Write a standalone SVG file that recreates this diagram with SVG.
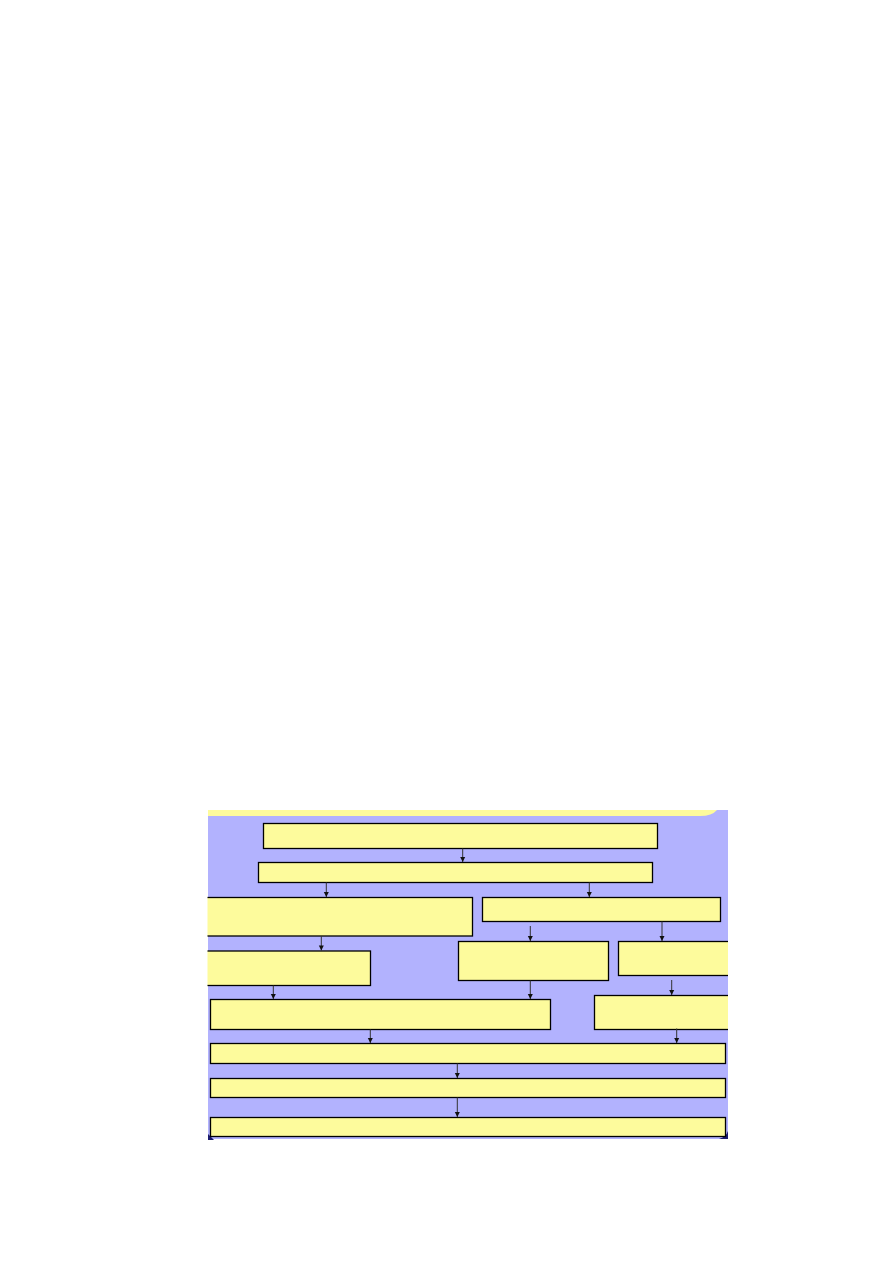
<svg xmlns="http://www.w3.org/2000/svg" width="893" height="1263" viewBox="0 0 893 1263">
<style>
.n{fill:#fdfb9c;stroke:#000;stroke-width:1.3}
.c line{stroke:#333;stroke-width:1}
</style>
<defs>
<marker id="ah" markerWidth="6" markerHeight="6" refX="5.5" refY="3" orient="auto" markerUnits="userSpaceOnUse" viewBox="0 0 6 6">
<path d="M0.5,0.5 L5.5,3 L0.5,5.5 Z" fill="#111"/>
</marker>
<clipPath id="panel"><rect x="207.5" y="810" width="520.5" height="329"/></clipPath>
</defs>
<rect width="893" height="1263" fill="#fff"/>
<g id="panel-bg">
<rect x="208" y="810" width="520" height="329" fill="#b2b2fe"/>
<path d="M208,810 H717 Q712,816 700,816 H208 Z" fill="#fdfb9c"/>
<path d="M208,1134 L208,1140 L214,1140 Z" fill="#1a1a6e"/>
<path d="M728,1131 Q726,1137 719,1139 L728,1139 Z" fill="#1a1a6e"/>
</g>
<g clip-path="url(#panel)">
<g id="n1"><rect class="n" x="263.5" y="823.5" width="394" height="25"/></g>
<g id="n2"><rect class="n" x="258.5" y="862.5" width="394" height="20"/></g>
<g id="n3a"><rect class="n" x="190" y="897.5" width="282.5" height="38.5"/></g>
<g id="n3b"><rect class="n" x="482.5" y="897.5" width="238" height="24"/></g>
<g id="n4a"><rect class="n" x="190" y="951" width="180.5" height="34.5"/></g>
<g id="n4b"><rect class="n" x="458.5" y="941.5" width="150" height="39"/></g>
<g id="n4c"><rect class="n" x="618.5" y="941.5" width="120" height="34"/></g>
<g id="n5a"><rect class="n" x="210.5" y="999.5" width="340" height="30"/></g>
<g id="n5b"><rect class="n" x="594.5" y="995.5" width="144" height="34"/></g>
<g id="n6"><rect class="n" x="210.5" y="1043.5" width="515" height="20"/></g>
<g id="n7"><rect class="n" x="210.5" y="1078.5" width="515" height="19"/></g>
<g id="n8"><rect class="n" x="210.5" y="1117.5" width="515" height="19"/></g>
</g>
<g id="connectors" class="c">
<line x1="462.7" y1="848.5" x2="462.7" y2="862" marker-end="url(#ah)"/>
<line x1="326.3" y1="882.5" x2="326.3" y2="897" marker-end="url(#ah)"/>
<line x1="589.3" y1="882.5" x2="589.3" y2="897" marker-end="url(#ah)"/>
<line x1="321.3" y1="936" x2="321.3" y2="950.5" marker-end="url(#ah)"/>
<line x1="530.3" y1="926" x2="530.3" y2="941" marker-end="url(#ah)" stroke="#555"/>
<line x1="662" y1="921.5" x2="662" y2="941" marker-end="url(#ah)" stroke="#555"/>
<line x1="273.3" y1="985.5" x2="273.3" y2="999" marker-end="url(#ah)"/>
<line x1="530.3" y1="980.5" x2="530.3" y2="999" marker-end="url(#ah)" stroke="#555"/>
<line x1="671.7" y1="980" x2="671.7" y2="995" marker-end="url(#ah)" stroke="#555"/>
<line x1="370.3" y1="1029.5" x2="370.3" y2="1043" marker-end="url(#ah)"/>
<line x1="676.7" y1="1028.5" x2="676.7" y2="1043" marker-end="url(#ah)"/>
<line x1="457.3" y1="1063.5" x2="457.3" y2="1078" marker-end="url(#ah)" stroke="#555"/>
<line x1="457.3" y1="1097.5" x2="457.3" y2="1117" marker-end="url(#ah)" stroke="#555"/>
</g>
</svg>
